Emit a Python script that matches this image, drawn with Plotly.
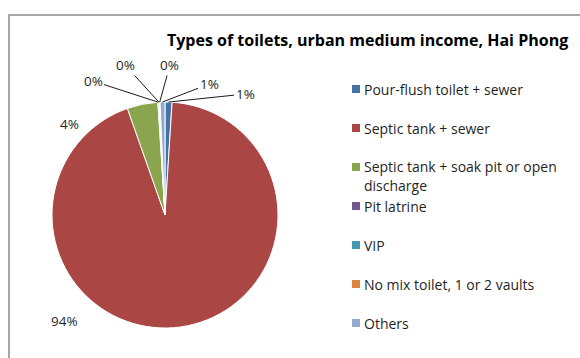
import math
import textwrap
import plotly.graph_objects as go

# Toilet types in urban medium-income households, Hai Phong (share, %)
categories = [
    "Pour-flush toilet + sewer",
    "Septic tank + sewer",
    "Septic tank + soak pit or open discharge",
    "Pit latrine",
    "VIP",
    "No mix toilet, 1 or 2 vaults",
    "Others",
]
shares = [1.0, 93.6, 4.4, 0.1, 0.1, 0.1, 0.7]
colors = ["#4572A7", "#AA4643", "#89A54E", "#71588F", "#4198AF", "#DB843D", "#93A9CF"]

W, H = 580, 358
FONT = "Open Sans"

# pie placement in pixels (centre and radius)
CX, CY, R = 165, 215, 113

# where each percentage label sits (pixels) and whether it gets a leader line
label_pos = [(245, 94), (49, 332), (58, 113), (93, 81), (125, 65), (170, 65), (209, 84)]
label_leader = [True, False, False, True, True, True, True]


def px(x):
    return x / W


def py(y):
    return 1 - y / H


fig = go.Figure()
fig.add_trace(go.Pie(
    labels=categories,
    values=shares,
    sort=False,
    direction="clockwise",
    rotation=0,
    marker=dict(colors=colors, line=dict(color="white", width=1)),
    textinfo="none",
    hoverinfo="label+percent",
    showlegend=False,
    domain=dict(x=[px(CX - R), px(CX + R)], y=[py(CY + R), py(CY - R)]),
))

annotations = []
shapes = []

# percentage labels, leader lines pointing at each slice's outer edge
total = sum(shares)
cum = 0.0
for v, (tx, ty), lead in zip(shares, label_pos, label_leader):
    theta = 2 * math.pi * (cum + v / 2) / total
    cum += v
    ex = CX + R * math.sin(theta)
    ey = CY - R * math.cos(theta)
    text = f"{round(v / total * 100):.0f}%"
    if lead:
        annotations.append(dict(
            x=px(ex), y=py(ey), xref="paper", yref="paper",
            ax=tx - ex, ay=ty - ey, axref="pixel", ayref="pixel",
            text=text, showarrow=True, arrowhead=0, arrowwidth=1,
            arrowcolor="#1a1a1a", standoff=0,
            font=dict(family=FONT, size=13.5, color="#1f1f1f"),
        ))
    else:
        annotations.append(dict(
            x=px(tx), y=py(ty), xref="paper", yref="paper",
            text=text, showarrow=False,
            font=dict(family=FONT, size=13.5, color="#1f1f1f"),
        ))

# legend on the right
LX, LY0, LSTEP = 352, 89, 39
for i, (name, col) in enumerate(zip(categories, colors)):
    yc = LY0 + LSTEP * i
    shapes.append(dict(
        type="rect", xref="paper", yref="paper",
        x0=px(LX), x1=px(LX + 8), y0=py(yc + 4), y1=py(yc - 4),
        fillcolor=col, line=dict(width=0),
    ))
    for k, line in enumerate(textwrap.wrap(name, width=30)):
        annotations.append(dict(
            x=px(LX + 10), y=py(yc + 18 * k), xref="paper", yref="paper",
            xanchor="left", yanchor="middle", text=line, showarrow=False,
            font=dict(family=FONT, size=14, color="#1f1f1f"),
        ))

# title
annotations.append(dict(
    x=px(367), y=py(40), xref="paper", yref="paper",
    xanchor="center", yanchor="middle", showarrow=False,
    text="<b>Types of toilets, urban medium income, Hai Phong</b>",
    font=dict(family=FONT, size=16, color="#000000"),
))

# chart frame
shapes.append(dict(
    type="rect", xref="paper", yref="paper",
    x0=px(9), x1=1.1, y0=-0.1, y1=py(15),
    line=dict(color="#a6a6a6", width=2), fillcolor="rgba(0,0,0,0)",
))

fig.update_layout(
    width=W, height=H,
    margin=dict(l=0, r=0, t=0, b=0),
    paper_bgcolor="white",
    plot_bgcolor="white",
    annotations=annotations,
    shapes=shapes,
    showlegend=False,
)

fig.write_html("out.html")
